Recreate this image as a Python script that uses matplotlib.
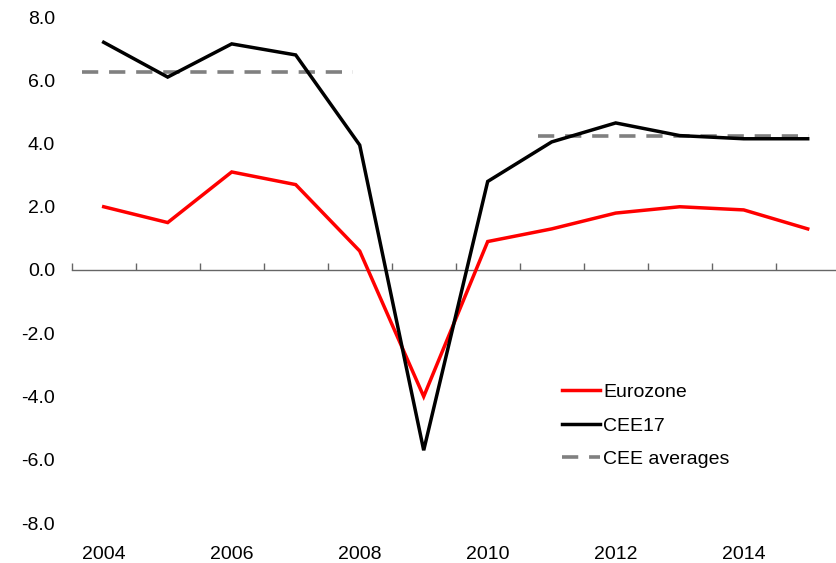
import matplotlib
matplotlib.use("Agg")
import matplotlib.pyplot as plt
import numpy as np

years = list(range(2004, 2016))
eurozone = [2.0, 1.5, 3.1, 2.7, 0.6, -4.0, 0.9, 1.3, 1.8, 2.0, 1.9, 1.3]
cee17 = [7.2, 6.1, 7.15, 6.8, 3.95, -5.7, 2.8, 4.05, 4.65, 4.25, 4.15, 4.15]
cee_avg_values = [6.25, 4.25]
cee_avg_spans = [(2003.66, 2007.9), (2010.79, 2015.02)]
year_labels = ["2004", "2006", "2008", "2010", "2012", "2014"]
y_ticks = [-8, -6, -4, -2, 0, 2, 4, 6, 8]

plt.rcParams['font.family'] = ['Liberation Sans', 'DejaVu Sans']

fig = plt.figure(figsize=(8.36, 5.63), dpi=100)
W, H = 836, 563
left_px, right_px = 71.7, 839.7
top_px, bot_px = 17, 523
ax = fig.add_axes([left_px / W, 1 - bot_px / H, (right_px - left_px) / W, (bot_px - top_px) / H])

x = np.arange(len(years))
ax.plot(x, eurozone, color='#FF0000', lw=2.5, label='Eurozone', solid_joinstyle='miter', zorder=3)
ax.plot(x, cee17, color='black', lw=2.5, label='CEE17', solid_joinstyle='miter', zorder=3)
for i, (v, (s, e)) in enumerate(zip(cee_avg_values, cee_avg_spans)):
    ax.plot([s - years[0], e - years[0]], [v, v], color='#808080', lw=2.6,
            dashes=(4.5, 3), label='CEE averages' if i == 0 else None, zorder=2)

ax.set_xlim(-0.5, len(years) - 0.5)
ax.set_ylim(-8, 8)

for s in ['top', 'right', 'left']:
    ax.spines[s].set_visible(False)
ax.spines['bottom'].set_position(('data', 0))
ax.spines['bottom'].set_color('#666666')
ax.spines['bottom'].set_linewidth(1.0)

ax.set_xticks(np.arange(-0.5, len(years) - 0.5 + 0.01, 1.0))
ax.set_xticklabels([])
ax.tick_params(axis='x', direction='in', length=5, width=1.0, color='#666666')

ax.set_yticks(y_ticks)
ax.set_yticklabels([f"{v:.1f}" for v in y_ticks], fontsize=14)
ax.tick_params(axis='y', length=0, pad=12)

for lab in year_labels:
    xi = years.index(int(lab))
    ax.text(xi, -0.0626, lab, transform=ax.get_xaxis_transform(), ha='center', va='center', fontsize=14)

leg = ax.legend(loc='upper left', bbox_to_anchor=((562 - left_px) / (right_px - left_px), (bot_px - 383.5) / (bot_px - top_px)),
                frameon=False, fontsize=14, handlelength=1.96, handletextpad=0.15, labelspacing=0.82,
                borderaxespad=0, borderpad=0)

fig.savefig('out.png', dpi=100)
